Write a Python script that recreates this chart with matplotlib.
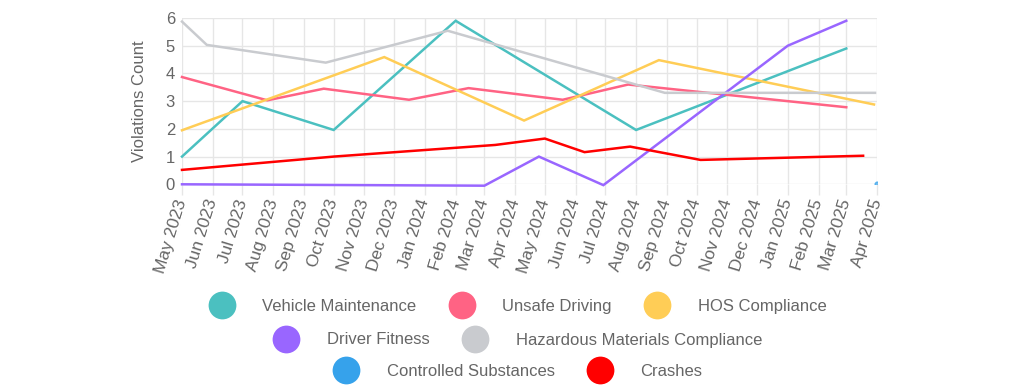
import numpy as np
import pandas as pd
import matplotlib
matplotlib.use("Agg")
import matplotlib.pyplot as plt
import matplotlib.dates as mdates
from matplotlib.lines import Line2D

plt.rcParams['font.family'] = ['Liberation Sans', 'DejaVu Sans']

# ------------------------------------------------------------------
# data
# ------------------------------------------------------------------
vm_dates = ["2023-05-01", "2023-07-01", "2023-10-01", "2024-02-01", "2024-08-01", "2025-03-01"]
vm_vals = [1.0, 3.0, 1.96, 5.9, 1.96, 4.9]

ud_dates = ["2023-05-01", "2023-07-26", "2023-09-21", "2023-12-16", "2024-02-14",
            "2024-05-19", "2024-07-24", "2025-03-01"]
ud_vals = [3.87, 3.03, 3.45, 3.05, 3.47, 3.05, 3.6, 2.78]

hos_dates = ["2023-05-01", "2023-11-21", "2024-04-10", "2024-08-24", "2025-03-29"]
hos_vals = [1.95, 4.59, 2.3, 4.48, 2.88]

df_dates = ["2023-05-01", "2024-03-01", "2024-04-25", "2024-06-29", "2025-01-01", "2025-03-01"]
df_vals = [0.0, -0.05, 1.0, -0.03, 5.0, 5.9]

hm_dates = ["2023-05-01", "2023-05-26", "2023-09-23", "2024-01-24", "2024-08-30", "2025-03-30"]
hm_vals = [5.87, 5.03, 4.39, 5.54, 3.3, 3.3]

cs_dates = ["2025-04-01"]
cs_vals = [0.0]

cr_dates = ["2023-05-01", "2023-10-01", "2024-03-12", "2024-05-01", "2024-06-10",
            "2024-07-26", "2024-10-05", "2025-03-18"]
cr_vals = [0.52, 1.0, 1.42, 1.65, 1.16, 1.36, 0.88, 1.03]

series = [
    ("Vehicle Maintenance", vm_dates, vm_vals, "#4BC0C0"),
    ("Unsafe Driving", ud_dates, ud_vals, "#FF6384"),
    ("HOS Compliance", hos_dates, hos_vals, "#FFCD56"),
    ("Driver Fitness", df_dates, df_vals, "#9966FF"),
    ("Hazardous Materials Compliance", hm_dates, hm_vals, "#C9CBCF"),
    ("Controlled Substances", cs_dates, cs_vals, "#36A2EB"),
    ("Crashes", cr_dates, cr_vals, "#FF0000"),
]
legend_rows = [[0, 1, 2], [3, 4], [5, 6]]

txt = "#666666"
grid_c = "#e6e6e6"

fig = plt.figure(figsize=(10.15, 3.9), dpi=100)
ax = fig.add_axes([182/1015, 1-184.3/390, 695/1015, 166.3/390])

for name, d, v, c in series:
    d = pd.to_datetime(d)
    if len(d) == 1:
        ax.plot(d, v, marker='o', ms=3.5, color=c, ls='none', alpha=0.7)
    else:
        ax.plot(d, v, color=c, lw=1.8, clip_on=False, solid_joinstyle='miter')

ax.set_xlim(pd.Timestamp("2023-05-01"), pd.Timestamp("2025-04-01"))
ax.set_ylim(0, 6)
ax.set_yticks(range(0, 7))
ax.xaxis.set_major_locator(mdates.MonthLocator())
ax.xaxis.set_major_formatter(mdates.DateFormatter("%b %Y"))

for s in ax.spines.values():
    s.set_visible(False)
ax.grid(True, color=grid_c, lw=1)
ax.set_axisbelow(True)

ax.tick_params(axis='x', length=8, width=1, color=grid_c, pad=3,
               labelsize=12.5, labelcolor=txt, labelrotation=73)
ax.tick_params(axis='y', length=0, pad=5, labelsize=12, labelcolor=txt)
plt.setp(ax.get_xticklabels(), ha='right', va='center', rotation_mode='anchor')

ax.set_ylabel("Violations Count", fontsize=12, color=txt, va='center')
ax.yaxis.set_label_coords(-43/695, 0.5)

# legend, three centred rows
row_y = [306.5, 340, 371.3]
for r, idx in enumerate(legend_rows):
    handles = [Line2D([], [], marker='o', ls='none', ms=20, color=series[i][3], mec='none')
               for i in idx]
    labels = [series[i][0] for i in idx]
    fig.legend(handles, labels, loc='center', bbox_to_anchor=(517/1015, 1-row_y[r]/390),
               ncol=len(idx), frameon=False, fontsize=12, labelcolor=txt,
               handlelength=1.7, handletextpad=1.6, columnspacing=1.85,
               borderpad=0, borderaxespad=0)

fig.savefig("out.png", dpi=100)
